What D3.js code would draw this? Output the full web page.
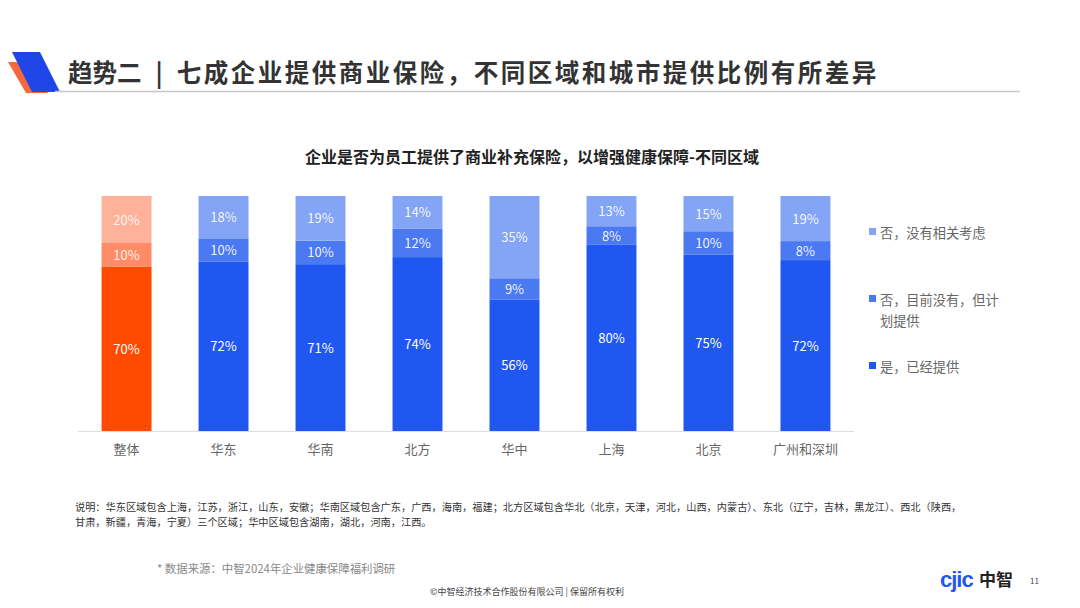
<!DOCTYPE html>
<html><head><meta charset="utf-8">
<script src="https://cdn.jsdelivr.net/npm/d3@7"></script>
<style>
body{margin:0;background:#fff;}
svg{display:block;font-family:"Noto Sans CJK SC","Noto Sans",sans-serif;}
</style></head>
<body>
<svg id="c" width="1080" height="608"></svg>
<script>
const categories = ["整体","华东","华南","北方","华中","上海","北京","广州和深圳"];
const provided = [70,72,71,74,56,80,75,72];
const planned = [10,10,10,12,9,8,10,8];
const noPlan = [20,18,19,14,35,13,15,19];
const seriesNames = ["是，已经提供","否，目前没有，但计划提供","否，没有相关考虑"];
const seriesKeys = ["provided","planned","noPlan"];

const blueColors = ["#1f57f0","#4a79f2","#84a4f5"];
const orangeColors = ["#ff4a00","#ff8c66","#ffb199"];

const svg = d3.select("#c");

// header logo
svg.append("path").attr("d","M8,62 L30,62 L48,93 L26,93 Z").attr("fill","#f4683c");
svg.append("path").attr("d","M12,52 L40,52 L60,92 L32,92 Z").attr("fill","#2146e8");
const t = svg.append("text").attr("x",68).attr("y",82).attr("font-size",24.5).attr("font-weight",700)
  .attr("fill","#333");
t.append("tspan").text("趋势二");
t.append("tspan").attr("dx",14).text("|");
t.append("tspan").attr("dx",14).attr("letter-spacing",2.5).text("七成企业提供商业保险，不同区域和城市提供比例有所差异");
svg.append("line").attr("x1",55).attr("x2",1020).attr("y1",91.5).attr("y2",91.5)
  .attr("stroke","#c8c8c8").attr("stroke-width",1.5);

// chart title
svg.append("text").attr("x",532).attr("y",163).attr("text-anchor","middle")
  .attr("font-size",16).attr("font-weight",700).attr("fill","#222")
  .text("企业是否为员工提供了商业补充保险，以增强健康保障-不同区域");

const data = categories.map((c,i)=>({cat:c, provided:provided[i], planned:planned[i], noPlan:noPlan[i]}));
const stack = d3.stack().keys(seriesKeys).offset(d3.stackOffsetExpand);
const stacked = stack(data);

const x = d3.scaleBand().domain(categories).range([78,854]).paddingInner(0.485).paddingOuter(0.243);
const y = d3.scaleLinear().domain([0,1]).range([431,196]);

const g = svg.append("g");
stacked.forEach((layer,li)=>{
  layer.forEach((d,i)=>{
    const col = i===0 ? orangeColors[li] : blueColors[li];
    g.append("rect").attr("x",x(categories[i])).attr("width",x.bandwidth())
      .attr("y",y(d[1])).attr("height",y(d[0])-y(d[1])).attr("fill",col);
    const raw = data[i][seriesKeys[li]];
    g.append("text").attr("x",x(categories[i])+x.bandwidth()/2)
      .attr("y",(y(d[0])+y(d[1]))/2+5).attr("text-anchor","middle")
      .attr("font-size",13).attr("fill","#fff").attr("fill-opacity",li===0?1:0.92)
      .text(raw+"%");
  });
});

// axis
const ax = svg.append("g").attr("transform","translate(0,431)").call(d3.axisBottom(x).tickSize(0).tickPadding(14));
ax.select(".domain").attr("stroke","#ddd").attr("d","M78,0.5H854");
ax.selectAll("text").attr("font-size",13).attr("fill","#666").attr("font-family","\"Noto Sans CJK SC\",sans-serif");

// legend
const legend = [
  {col:blueColors[2], y:233, lines:["否，没有相关考虑"]},
  {col:blueColors[1], y:300, lines:["否，目前没有，但计","划提供"]},
  {col:blueColors[0], y:367, lines:["是，已经提供"]}
];
legend.forEach(l=>{
  svg.append("rect").attr("x",869).attr("y",l.y-5).attr("width",7).attr("height",7).attr("fill",l.col);
  l.lines.forEach((t,k)=>{
    svg.append("text").attr("x",880).attr("y",l.y+5+k*21).attr("font-size",13.2).attr("fill","#666").text(t);
  });
});

// notes
svg.append("text").attr("x",75).attr("y",511).attr("font-size",10.2).attr("fill","#333")
  .text("说明：华东区域包含上海，江苏，浙江，山东，安徽；华南区域包含广东，广西，海南，福建；北方区域包含华北（北京，天津，河北，山西，内蒙古）、东北（辽宁，吉林，黑龙江）、西北（陕西，");
svg.append("text").attr("x",75).attr("y",526).attr("font-size",10.2).attr("fill","#333")
  .text("甘肃，新疆，青海，宁夏）三个区域；华中区域包含湖南，湖北，河南，江西。");
svg.append("text").attr("x",157).attr("y",573).attr("font-size",11.4).attr("fill","#888")
  .text("* 数据来源：中智2024年企业健康保障福利调研");
svg.append("text").attr("x",527).attr("y",595).attr("text-anchor","middle").attr("font-size",9).attr("fill","#444")
  .text("©中智经济技术合作股份有限公司 | 保留所有权利");

// footer logo
svg.append("text").attr("x",940).attr("y",587).attr("font-size",22).attr("font-weight",700)
  .attr("fill","#1f57f0").attr("font-family","Arial, 'Liberation Sans', sans-serif").attr("letter-spacing",-1).text("cjic");
svg.append("text").attr("x",979).attr("y",586).attr("font-size",17).attr("font-weight",700)
  .attr("fill","#222").text("中智");
svg.append("text").attr("x",1030).attr("y",584).attr("font-size",8).attr("fill","#444").text("11");
</script>
</body></html>
